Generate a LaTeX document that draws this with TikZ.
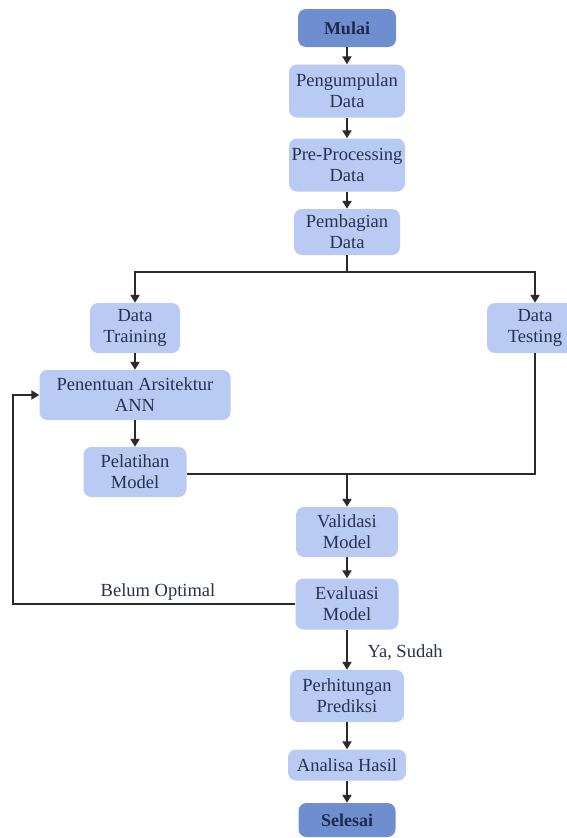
\documentclass[tikz,border=0pt]{standalone}
\usepackage{fontspec}
\setmainfont{Liberation Serif}
\usetikzlibrary{arrows.meta}
\definecolor{boxfill}{HTML}{B9CBF2}
\definecolor{endfill}{HTML}{6F8ECF}
\definecolor{boxtext}{HTML}{283250}
\definecolor{endtext}{HTML}{1D2A4C}
\definecolor{linecol}{HTML}{2A2A2A}

\begin{document}
\begin{tikzpicture}[x=1pt,y=-1pt,
box/.style={rectangle,rounded corners=8pt,fill=boxfill,text=boxtext,align=center,inner sep=0pt,
font=\fontsize{18.5}{21}\selectfont},
ends/.style={box,fill=endfill,text=endtext,font=\fontsize{18}{21}\selectfont\bfseries},
arr/.style={draw=linecol,line width=2pt,-{Triangle[length=8pt,width=9pt]}},
lin/.style={draw=linecol,line width=2pt},
lbl/.style={text=boxtext,font=\fontsize{18.5}{21}\selectfont}]
\useasboundingbox (0,0) rectangle (567,838);
\clip (0,0) rectangle (567,838);
\node[ends,minimum width=98pt,minimum height=38pt] (mulai) at (347,28) {Mulai};
\node[box,minimum width=116pt,minimum height=53pt] (kumpul) at (347,91) {Pengumpulan\\Data};
\node[box,minimum width=116pt,minimum height=53pt] (prepro) at (347,165) {Pre-Processing\\Data};
\node[box,minimum width=106pt,minimum height=46pt] (bagi) at (347,232) {Pembagian\\Data};
\node[box,minimum width=90pt,minimum height=50pt] (train) at (135,328) {Data\\Training};
\node[box,minimum width=96pt,minimum height=50pt] (test) at (535,328) {Data\\Testing};
\node[box,minimum width=191pt,minimum height=50pt] (arsi) at (135,395) {Penentuan Arsitektur\\ANN};
\node[box,minimum width=103pt,minimum height=50pt] (latih) at (135,472) {Pelatihan\\Model};
\node[box,minimum width=102pt,minimum height=50pt] (valid) at (347,532) {Validasi\\Model};
\node[box,minimum width=103pt,minimum height=51pt] (eval) at (347,604) {Evaluasi\\Model};
\node[box,minimum width=114pt,minimum height=52pt] (hitung) at (347,696) {Perhitungan\\Prediksi};
\node[box,minimum width=118pt,minimum height=31pt] (analisa) at (347,765) {Analisa Hasil};
\node[ends,minimum width=97pt,minimum height=34pt] (selesai) at (347,820) {Selesai};
\coordinate (split) at (347,272);
\coordinate (join) at (347,474);
\coordinate (back) at (13,604);
\node[lbl] (belum) at (158,592) {Belum Optimal};
\node[lbl,anchor=west] (sudah) at (364,652) {Ya, Sudah};
\draw[arr] (mulai)--(kumpul);
\draw[arr] (kumpul)--(prepro);
\draw[arr] (prepro)--(bagi);
\draw[lin] (bagi.south)--(split);
\draw[arr] (split)-|(train.north);
\draw[arr] (split)-|(test.north);
\draw[arr] (train)--(arsi);
\draw[arr] (arsi)--(latih);
\draw[lin] (latih.east|-join)--(test.south|-join)--(test.south);
\draw[arr] (join)--(valid.north);
\draw[arr] (valid)--(eval);
\draw[arr] (eval.west|-back)--(back)|-(arsi.west);
\draw[arr] (eval)--(hitung);
\draw[arr] (hitung)--(analisa);
\draw[arr] (analisa)--(selesai);
\end{tikzpicture}
\end{document}
